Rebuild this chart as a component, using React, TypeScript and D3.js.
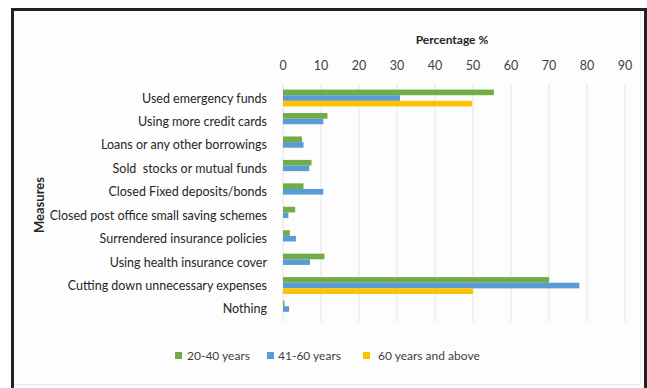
import React from "react";
import * as d3 from "d3";

const categories = [
  "Used emergency funds",
  "Using more credit cards",
  "Loans or any other borrowings",
  "Sold  stocks or mutual funds",
  "Closed Fixed deposits/bonds",
  "Closed post office small saving schemes",
  "Surrendered insurance policies",
  "Using health insurance cover",
  "Cutting down unnecessary expenses",
  "Nothing",
];

const seriesNames = ["20-40 years", "41-60 years", "60 years and above"];
const age20to40 = [55.5, 11.7, 5, 7.5, 5.4, 3.2, 1.8, 10.9, 70, 0.4];
const age41to60 = [30.8, 10.6, 5.4, 6.9, 10.6, 1.4, 3.4, 7.1, 78, 1.6];
const age60plus = [49.8, 0, 0, 0, 0, 0, 0, 0, 50, 0];
const xTicks = [0, 10, 20, 30, 40, 50, 60, 70, 80, 90];

const colors = ["#70AD47", "#5B9BD5", "#FFC000"];
const W = 647;
const H = 388;
const FONT = "Lato, 'Open Sans', sans-serif";

export default function App() {
  const series = [age20to40, age41to60, age60plus];
  const x = d3.scaleLinear().domain([0, 90]).range([283, 625]);
  const y = d3
    .scaleBand<string>()
    .domain(categories)
    .range([86.3, 320.7])
    .paddingInner(0.28)
    .paddingOuter(0.14);
  const inner = d3
    .scaleBand<number>()
    .domain([0, 1, 2])
    .range([0, y.bandwidth()]);

  const legendSwatch = [175, 267, 363];
  const legendText = [187, 278, 378];

  return (
    <svg
      width={W}
      height={H}
      style={{ position: "absolute", left: 0, top: 0 }}
      fontFamily={FONT}
    >
      <rect x={0} y={0} width={W} height={H} fill="#ffffff" />
      <rect x={14} y={11} width={630} height={377} fill="#fdfdfd" />
      {/* frame */}
      <rect x={11} y={8} width={3} height={380} fill="#222" />
      <rect x={11} y={8} width={636} height={3} fill="#222" />
      <rect x={644} y={8} width={3} height={380} fill="#222" />
      <line x1={14} x2={640} y1={384.5} y2={384.5} stroke="#e2e2e8" />
      <line x1={640.5} x2={640.5} y1={11} y2={384} stroke="#ececf0" />

      {/* gridlines */}
      {xTicks.map((t) => (
        <line
          key={t}
          x1={x(t)}
          x2={x(t)}
          y1={84}
          y2={322}
          stroke="#e4e4e4"
          strokeWidth={1}
        />
      ))}

      {/* x tick labels */}
      {xTicks.map((t) => (
        <text
          key={t}
          x={x(t)}
          y={70}
          textAnchor="middle"
          fontSize={12.5}
          fill="#404040"
        >
          {t}
        </text>
      ))}

      <text
        x={452}
        y={44}
        textAnchor="middle"
        fontSize={12}
        fontWeight="bold"
        fill="#262626"
      >
        Percentage %
      </text>

      {/* bars */}
      {series.map((vals, si) =>
        vals.map((v, ci) =>
          v > 0 ? (
            <rect
              key={`${si}-${ci}`}
              x={x(0)}
              y={(y(categories[ci]) ?? 0) + (inner(si) ?? 0)}
              width={x(v) - x(0)}
              height={inner.bandwidth()}
              fill={colors[si]}
            />
          ) : null
        )
      )}

      {/* category labels */}
      {categories.map((c) => (
        <text
          key={c}
          x={267}
          y={(y(c) ?? 0) + y.bandwidth() / 2 + 4.5}
          textAnchor="end"
          fontSize={12.5}
          fill="#262626"
          style={{ whiteSpace: "pre" }}
        >
          {c}
        </text>
      ))}

      <text
        transform={`translate(44,205) rotate(-90)`}
        textAnchor="middle"
        fontSize={13}
        fontWeight="bold"
        fill="#262626"
      >
        Measures
      </text>

      {/* legend */}
      {seriesNames.map((s, i) => (
        <g key={s}>
          <rect x={legendSwatch[i]} y={352} width={7} height={7} fill={colors[i]} />
          <text x={legendText[i]} y={360} fontSize={12} fill="#404040">
            {s}
          </text>
        </g>
      ))}
    </svg>
  );
}
